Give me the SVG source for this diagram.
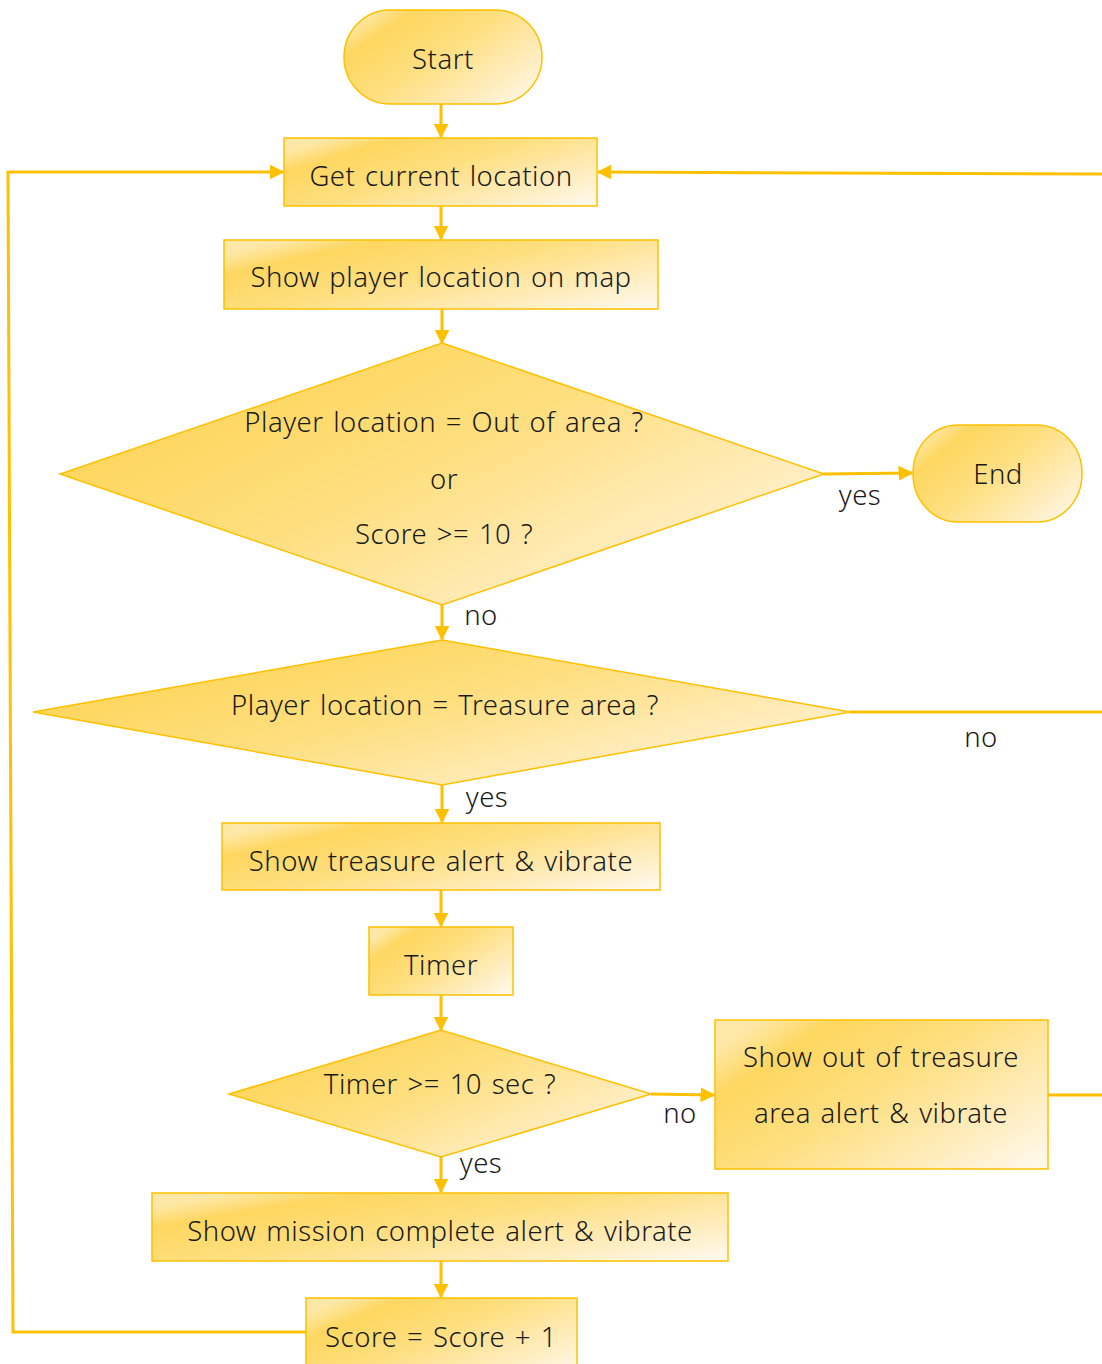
<svg xmlns="http://www.w3.org/2000/svg" width="1102" height="1364" viewBox="0 0 1102 1364">
  <defs>
    <linearGradient id="gold" x1="0" y1="0.2" x2="1" y2="0.9">
      <stop offset="0" stop-color="#FEE8A8"/>
      <stop offset="0.15" stop-color="#FED760"/>
      <stop offset="0.45" stop-color="#FEDF80"/>
      <stop offset="0.75" stop-color="#FFEBB8"/>
      <stop offset="1" stop-color="#FFF8E8"/>
    </linearGradient>
    <marker id="arrow" viewBox="0 0 10 10" refX="9" refY="5" markerWidth="5" markerHeight="5" markerUnits="strokeWidth" orient="auto">
      <path d="M0,0 L10,5 L0,10 z" fill="#FFC000"/>
    </marker>
  </defs>
  <style>
    .shape { fill: url(#gold); stroke: #FFC000; stroke-width: 1.5; }
    .label, .edge-label { font-family: "Noto Sans", "Open Sans", "Liberation Sans", sans-serif; font-size: 27.5px; font-weight: 300; letter-spacing: 0.5px; word-spacing: 2px; fill: #1a1a1a; text-anchor: middle; dominant-baseline: central; }
    .edge { fill: none; stroke: #FFC000; stroke-width: 3; }
  </style>

  <rect width="1102" height="1364" fill="#ffffff"/>

  <!-- connectors -->
  <g id="connectors">
    <line class="edge" x1="441" y1="104" x2="441" y2="137" marker-end="url(#arrow)"/>
    <line class="edge" x1="441" y1="206" x2="441" y2="239" marker-end="url(#arrow)"/>
    <line class="edge" x1="442" y1="309" x2="442" y2="343" marker-end="url(#arrow)"/>
    <line class="edge" x1="824" y1="474" x2="912" y2="473" marker-end="url(#arrow)"/>
    <line class="edge" x1="442" y1="605" x2="442" y2="639" marker-end="url(#arrow)"/>
    <line class="edge" x1="850" y1="712" x2="1102" y2="712"/>
    <line class="edge" x1="1102" y1="174" x2="598" y2="172" marker-end="url(#arrow)"/>
    <line class="edge" x1="442" y1="785" x2="442" y2="822" marker-end="url(#arrow)"/>
    <line class="edge" x1="441" y1="890" x2="441" y2="926" marker-end="url(#arrow)"/>
    <line class="edge" x1="441" y1="995" x2="441" y2="1030" marker-end="url(#arrow)"/>
    <line class="edge" x1="651" y1="1094" x2="714" y2="1095" marker-end="url(#arrow)"/>
    <line class="edge" x1="1048" y1="1095" x2="1102" y2="1095"/>
    <line class="edge" x1="441" y1="1157" x2="441" y2="1192" marker-end="url(#arrow)"/>
    <line class="edge" x1="441" y1="1261" x2="441" y2="1297" marker-end="url(#arrow)"/>
    <polyline class="edge" points="306,1332 13,1332 8,172 283,172" marker-end="url(#arrow)"/>

    <text class="edge-label" x="860" y="494">yes</text>
    <text class="edge-label" x="481" y="614">no</text>
    <text class="edge-label" x="981" y="736">no</text>
    <text class="edge-label" x="487" y="796">yes</text>
    <text class="edge-label" x="680" y="1112">no</text>
    <text class="edge-label" x="481" y="1162">yes</text>
  </g>

  <!-- nodes -->
  <g id="start">
    <rect class="shape" x="344" y="10" width="198" height="94" rx="46" ry="47"/>
    <text class="label" x="443" y="58">Start</text>
  </g>

  <g id="get-location">
    <rect class="shape" x="284" y="138" width="313" height="68"/>
    <text class="label" x="441" y="175">Get current location</text>
  </g>

  <g id="show-location">
    <rect class="shape" x="224" y="240" width="434" height="69"/>
    <text class="label" x="441" y="276">Show player location on map</text>
  </g>

  <g id="check-end">
    <polygon class="shape" points="442,343 824,474 442,605 60,474"/>
    <text class="label" x="444" y="421">Player location = Out of area ?</text>
    <text class="label" x="444" y="478">or</text>
    <text class="label" x="444" y="533">Score &gt;= 10 ?</text>
  </g>

  <g id="end">
    <rect class="shape" x="913" y="425" width="169" height="97" rx="45" ry="48"/>
    <text class="label" x="998" y="473">End</text>
  </g>

  <g id="check-treasure">
    <polygon class="shape" points="442,640 850,712 442,785 33,712"/>
    <text class="label" x="445" y="704">Player location = Treasure area ?</text>
  </g>

  <g id="treasure-alert">
    <rect class="shape" x="222" y="823" width="438" height="67"/>
    <text class="label" x="441" y="860">Show treasure alert &amp; vibrate</text>
  </g>

  <g id="timer">
    <rect class="shape" x="369" y="927" width="144" height="68"/>
    <text class="label" x="441" y="964">Timer</text>
  </g>

  <g id="check-timer">
    <polygon class="shape" points="441,1030 651,1094 441,1157 229,1094"/>
    <text class="label" x="440" y="1083">Timer &gt;= 10 sec ?</text>
  </g>

  <g id="out-of-area-alert">
    <rect class="shape" x="715" y="1020" width="333" height="149"/>
    <text class="label" x="881" y="1056">Show out of treasure</text>
    <text class="label" x="881" y="1112">area alert &amp; vibrate</text>
  </g>

  <g id="mission-complete">
    <rect class="shape" x="152" y="1193" width="576" height="68"/>
    <text class="label" x="440" y="1230">Show mission complete alert &amp; vibrate</text>
  </g>

  <g id="score">
    <rect class="shape" x="306" y="1298" width="271" height="80"/>
    <text class="label" x="441" y="1336">Score = Score + 1</text>
  </g>
</svg>
